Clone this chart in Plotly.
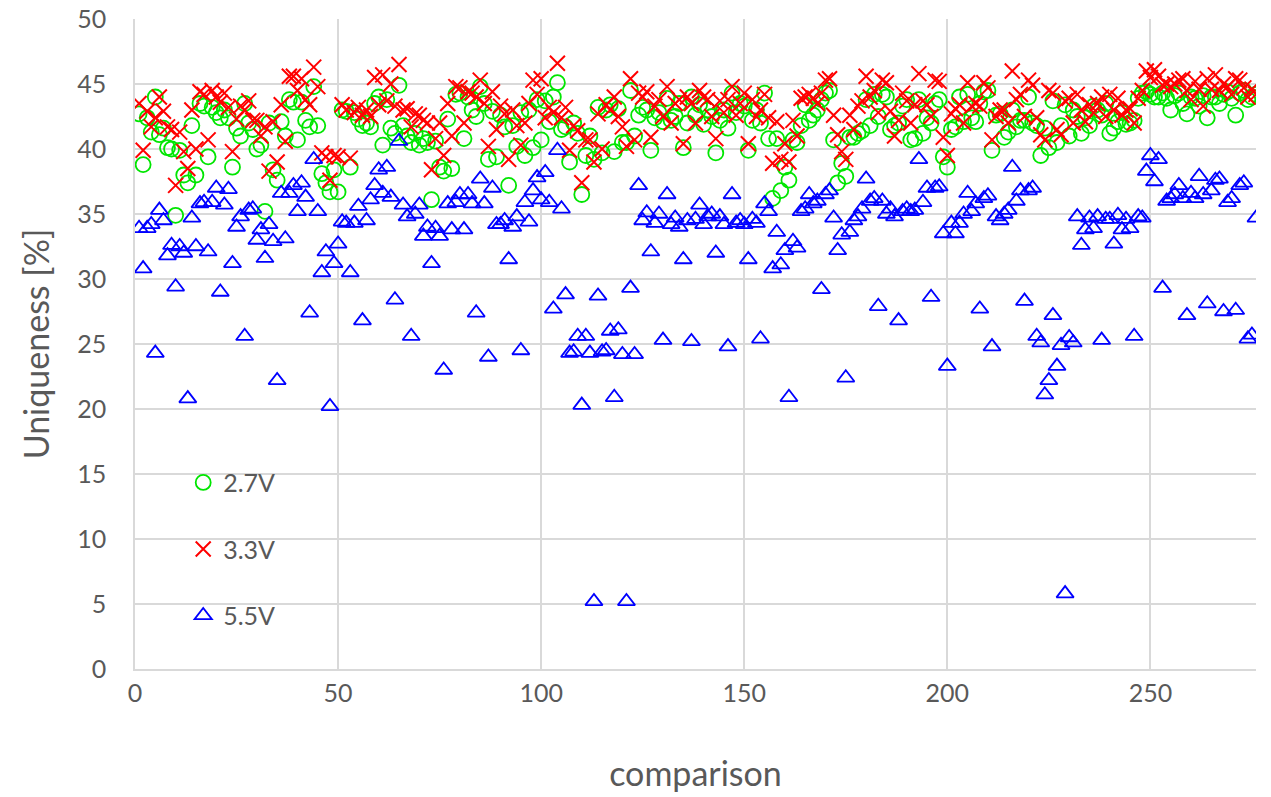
import plotly.graph_objects as go

series_names = ["2.7V", "3.3V", "5.5V"]

v27 = [42.7, 38.8, 42.4, 41.3, 44.0, 41.1, 41.6, 40.1, 40.0, 34.9,
       39.9, 38.0, 37.4, 41.8, 38.0, 43.5, 43.3, 39.4, 43.2, 42.8,
       42.4, 43.0, 42.4, 38.6, 41.6, 41.0, 43.5, 42.0, 41.5, 40.0,
       40.3, 35.2, 42.0, 38.4, 37.6, 42.1, 41.0, 43.8, 43.6, 40.7,
       43.6, 42.2, 41.7, 44.8, 41.8, 38.1, 37.4, 36.7, 38.4, 36.7,
       43.0, 42.9, 38.6, 42.8, 42.3, 41.8, 42.0, 41.7, 43.5, 44.0,
       40.3, 43.8, 41.6, 41.2, 44.9, 41.8, 41.0, 40.5, 41.2, 40.3,
       40.8, 40.5, 36.1, 40.6, 38.6, 38.3, 42.3, 38.5, 44.2, 44.3,
       40.8, 44.0, 43.0, 42.5, 44.8, 43.5, 39.2, 42.9, 39.4, 42.6,
       41.7, 37.2, 41.8, 40.2, 42.8, 39.5, 43.0, 40.1, 43.8, 40.7,
       43.7, 42.1, 44.0, 45.1, 41.5, 41.7, 39.0, 42.0, 41.2, 36.5,
       39.5, 41.0, 39.2, 43.2, 39.7, 43.0, 43.4, 39.8, 43.1, 40.5,
       40.5, 44.5, 41.0, 42.6, 43.2, 43.0, 39.9, 42.4, 42.8, 42.1,
       43.9, 42.2, 42.5, 43.5, 40.1, 42.0, 44.0, 42.6, 43.4, 41.9,
       43.0, 42.5, 39.7, 42.2, 43.0, 41.6, 44.3, 42.8, 43.5, 43.3,
       39.9, 42.2, 43.0, 42.0, 44.3, 40.8, 36.2, 40.8, 36.8, 38.6,
       37.6, 40.7, 40.5, 41.8, 43.4, 42.2, 42.6, 43.0, 43.8, 44.3,
       44.5, 40.7, 37.4, 38.9, 37.9, 40.9, 40.9, 41.2, 41.4, 43.8,
       41.8, 44.2, 42.5, 44.2, 44.0, 41.5, 41.8, 42.0, 43.3, 43.8,
       40.7, 40.8, 43.8, 41.2, 42.4, 42.0, 43.5, 43.8, 39.4, 38.6,
       41.5, 41.7, 44.0, 42.1, 44.2, 42.4, 42.1, 43.5, 44.4, 44.5,
       39.9, 42.6, 42.7, 40.9, 41.3, 43.0, 41.7, 42.2, 42.2, 44.0,
       42.0, 41.8, 39.5, 41.6, 40.1, 43.7, 40.5, 41.8, 43.4, 41.0,
       43.0, 42.5, 41.2, 42.4, 41.8, 43.3, 43.0, 42.6, 43.5, 41.2,
       41.6, 42.1, 42.8, 41.9, 42.0, 42.2, 43.9, 44.3, 44.4, 44.2,
       44.0, 44.0, 44.3, 43.9, 43.0, 44.1, 44.3, 43.5, 42.7, 44.0,
       43.9, 43.3, 44.1, 42.4, 44.0, 44.0, 43.5, 44.2, 44.4, 43.9,
       42.6, 44.3, 44.5, 43.8, 44.0, 44.2]

v33 = [43.5, 39.9, 42.9, 41.7, 42.4, 44.0, 42.9, 41.7, 41.5, 37.2,
       41.3, 39.8, 38.5, 43.0, 40.0, 44.4, 44.2, 40.7, 44.5, 44.0,
       43.6, 44.3, 43.2, 39.8, 42.3, 43.3, 43.0, 43.7, 42.2, 42.2,
       41.0, 41.7, 38.3, 42.1, 39.0, 43.4, 40.6, 45.6, 45.6, 44.5,
       45.4, 43.8, 43.4, 46.3, 44.8, 39.7, 39.4, 37.6, 39.5, 39.4,
       43.4, 43.0, 39.3, 42.8, 43.2, 42.6, 43.0, 42.5, 45.5, 43.4,
       45.7, 43.7, 45.0, 43.3, 46.5, 43.0, 43.1, 41.7, 42.7, 42.6,
       42.2, 42.0, 38.4, 40.8, 42.0, 39.5, 43.5, 41.0, 44.8, 44.7,
       42.0, 44.4, 44.3, 44.0, 45.3, 43.5, 40.2, 44.4, 41.5, 43.3,
       42.7, 39.2, 43.0, 41.8, 40.3, 42.0, 43.5, 45.3, 44.2, 45.4,
       42.4, 43.2, 42.8, 46.6, 42.4, 43.2, 39.9, 41.8, 41.4, 37.4,
       40.7, 40.7, 39.0, 42.7, 40.0, 43.4, 43.0, 44.0, 42.5, 41.7,
       40.2, 45.4, 40.7, 44.3, 44.0, 44.4, 40.9, 43.3, 43.8, 42.5,
       44.8, 42.0, 43.5, 43.8, 40.4, 44.0, 43.5, 42.0, 44.5, 44.0,
       43.8, 42.5, 40.8, 43.7, 42.8, 43.8, 44.8, 42.6, 43.5, 44.3,
       40.4, 43.8, 42.5, 43.0, 44.2, 42.4, 38.9, 42.1, 39.2, 40.4,
       39.0, 42.2, 41.0, 43.9, 44.0, 44.2, 43.9, 43.5, 44.3, 45.3,
       45.4, 42.6, 41.1, 39.8, 39.2, 42.6, 41.5, 43.3, 43.7, 45.6,
       44.0, 44.5, 42.8, 45.3, 45.1, 42.9, 41.0, 42.2, 44.3, 43.7,
       42.0, 43.4, 45.8, 43.7, 43.4, 42.5, 45.3, 45.2, 40.9, 39.5,
       42.7, 43.1, 43.4, 42.0, 45.1, 43.3, 43.5, 43.3, 45.1, 44.7,
       40.7, 42.5, 43.0, 43.0, 42.0, 46.0, 43.8, 44.2, 42.5, 45.3,
       44.9, 42.4, 41.1, 40.7, 44.5, 44.3, 41.5, 41.1, 43.7, 43.9,
       42.0, 44.2, 43.0, 42.1, 43.4, 42.8, 43.5, 44.0, 42.5, 44.2,
       43.0, 43.9, 42.6, 43.0, 43.1, 42.0, 43.9, 44.5, 46.0, 45.5,
       46.1, 45.6, 44.9, 45.0, 44.8, 45.0, 45.3, 45.4, 44.5, 43.8,
       45.2, 44.6, 43.3, 45.4, 44.6, 45.7, 44.5, 45.0, 44.8, 44.2,
       45.4, 45.3, 44.7, 44.0, 44.6, 44.2]

v55 = [33.9, 30.8, 33.9, 34.2, 24.3, 35.3, 34.5, 31.8, 32.6, 29.4,
       32.5, 32.0, 20.8, 34.7, 32.5, 35.8, 35.9, 32.1, 35.9, 37.0,
       29.0, 35.7, 36.9, 31.2, 34.0, 34.8, 25.6, 35.3, 35.4, 33.0,
       33.8, 31.6, 34.2, 32.9, 22.2, 36.6, 33.1, 36.6, 37.2, 35.2,
       37.4, 36.3, 27.4, 39.2, 35.2, 30.5, 32.1, 20.2, 31.2, 32.7,
       34.4, 34.3, 30.5, 34.3, 35.6, 26.8, 34.5, 36.1, 37.2, 38.4,
       36.6, 38.6, 36.3, 28.4, 40.6, 35.7, 34.8, 25.6, 35.0, 35.7,
       33.3, 34.0, 31.2, 33.9, 33.3, 23.0, 35.8, 33.8, 35.9, 36.5,
       33.8, 36.5, 35.8, 27.4, 37.7, 35.8, 24.0, 37.0, 34.2, 34.2,
       34.5, 31.5, 34.0, 34.8, 24.5, 35.9, 34.4, 36.8, 37.8, 36.1,
       38.2, 35.9, 27.7, 39.9, 35.4, 28.8, 24.3, 24.4, 25.6, 20.3,
       25.6, 24.3, 5.2, 28.7, 24.4, 24.5, 26.0, 20.9, 26.1, 24.2,
       5.2, 29.3, 24.2, 37.2, 34.5, 35.1, 32.1, 34.3, 35.0, 25.3,
       36.5, 34.2, 34.7, 34.0, 31.5, 34.5, 25.2, 34.6, 35.7, 34.2,
       34.8, 35.0, 32.0, 34.8, 34.2, 24.8, 36.5, 34.3, 34.5, 34.2,
       31.5, 34.6, 34.3, 25.4, 35.8, 35.2, 30.8, 33.6, 31.1, 32.2,
       20.9, 32.9, 32.4, 35.2, 35.4, 36.5, 35.8, 36.0, 29.2, 36.5,
       36.8, 34.7, 32.2, 33.4, 22.4, 33.6, 34.5, 34.8, 35.4, 37.7,
       36.0, 36.2, 27.9, 36.0, 35.0, 35.4, 34.8, 26.8, 35.2, 35.4,
       35.2, 35.3, 39.2, 35.9, 37.0, 28.6, 37.0, 37.1, 33.5, 23.3,
       34.3, 33.5, 34.3, 35.0, 36.6, 35.2, 35.8, 27.7, 36.2, 36.4,
       24.8, 34.8, 34.5, 35.0, 35.3, 38.6, 36.0, 36.8, 28.3, 36.8,
       37.0, 25.6, 25.1, 21.1, 22.2, 27.2, 23.3, 24.9, 5.8, 25.5,
       25.1, 34.8, 32.6, 33.8, 34.7, 33.9, 34.8, 25.3, 34.6, 34.6,
       32.7, 34.9, 33.8, 34.6, 33.9, 25.6, 34.8, 34.7, 38.3, 39.5,
       37.5, 39.2, 29.3, 36.0, 36.2, 36.5, 37.2, 36.2, 27.2, 36.6,
       36.2, 37.9, 36.5, 28.1, 36.8, 37.6, 37.7, 27.5, 35.9, 36.2,
       27.6, 37.2, 37.4, 25.4, 25.7, 34.7]

x_vals = list(range(1, len(v27) + 1))

x_ticks = [0, 50, 100, 150, 200, 250]
y_ticks = [0, 5, 10, 15, 20, 25, 30, 35, 40, 45, 50]

FONT = "Lato, 'Open Sans', sans-serif"
GREY = "#595959"

fig = go.Figure()
fig.add_trace(go.Scatter(
    x=x_vals, y=v27, mode="markers", name=series_names[0], legendgroup="a",
    marker=dict(symbol="circle-open", size=15, color="#00E600",
                line=dict(width=1.8, color="#00E600"))))
fig.add_trace(go.Scatter(
    x=x_vals, y=v33, mode="markers", name=series_names[1], legendgroup="b",
    marker=dict(symbol="x-thin-open", size=15, color="#FF0000",
                line=dict(width=2, color="#FF0000"))))
fig.add_trace(go.Scatter(
    x=x_vals, y=v55, mode="markers", name=series_names[2], legendgroup="c",
    marker=dict(symbol="triangle-up-open", size=15, color="#0000FF",
                line=dict(width=1.8, color="#0000FF"))))

fig.update_layout(
    width=1271, height=797,
    margin=dict(l=135, r=15, t=19, b=128, autoexpand=False),
    paper_bgcolor="white", plot_bgcolor="white",
    font=dict(family=FONT, color=GREY, size=25),
    showlegend=True,
    legend=dict(x=0.043, y=0.322, xanchor="left", yanchor="top",
                bgcolor="rgba(255,255,255,0)", font=dict(size=25, color=GREY),
                tracegroupgap=31, itemwidth=30),
    xaxis=dict(range=[0, 276], tickvals=x_ticks, showgrid=True,
               gridcolor="#D9D9D9", gridwidth=1.5, zeroline=False,
               showline=True, linecolor="#D9D9D9", linewidth=1.5,
               automargin=False, ticklabeloverflow="allow",
               tickfont=dict(size=25, color=GREY), ticklabelstandoff=1,
               title=dict(text="comparison", font=dict(size=34, color=GREY), standoff=56)),
    yaxis=dict(range=[0, 50], tickvals=y_ticks, showgrid=True,
               gridcolor="#D9D9D9", gridwidth=1.5, zeroline=False,
               showline=True, linecolor="#D9D9D9", linewidth=1.5,
               automargin=False, ticklabeloverflow="allow",
               tickfont=dict(size=25, color=GREY), ticklabelstandoff=22,
               title=dict(text="Uniqueness [%]", font=dict(size=34, color=GREY), standoff=17)),
)

fig.write_html("out.html", config={"displayModeBar": False},
               post_script="document.body.style.margin='0';document.body.style.padding='0';")
